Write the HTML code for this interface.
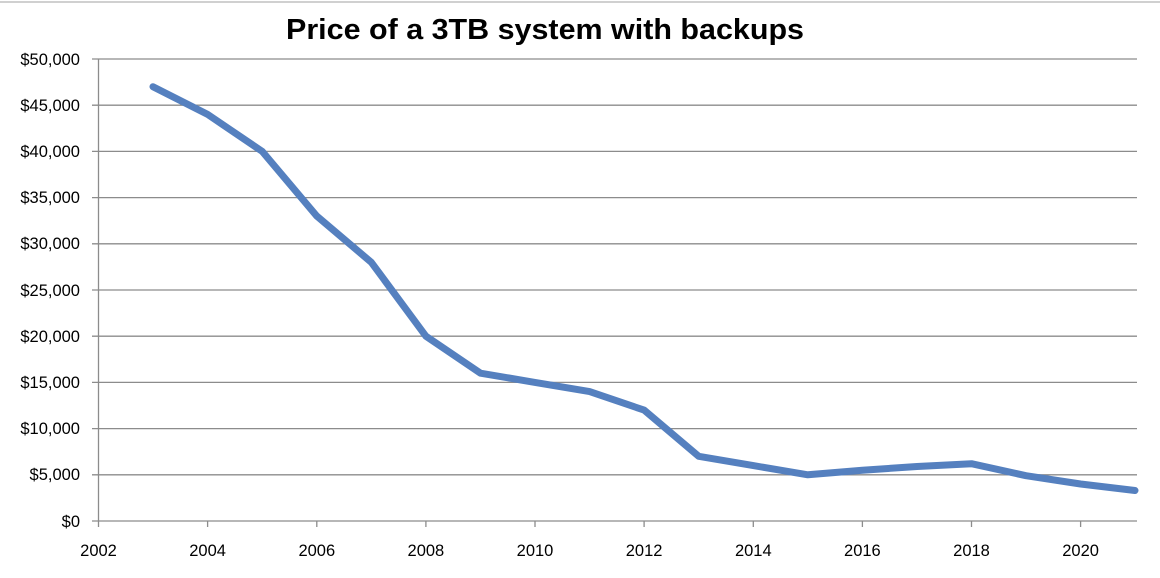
<!DOCTYPE html><html><head><style>body{margin:0;background:#fff}svg{display:block}</style></head><body>
<svg width="1160" height="578" xmlns="http://www.w3.org/2000/svg" font-family="'Liberation Sans',sans-serif">
<line x1="0" y1="2" x2="1160" y2="2" stroke="#d0d0d0" stroke-width="2"/>
<text x="545" y="39" text-anchor="middle" font-size="29" font-weight="bold" fill="#000" textLength="518" lengthAdjust="spacingAndGlyphs">Price of a 3TB system with backups</text>
<g stroke="#8c8c8c" stroke-width="1.3">
<line x1="92" y1="59" x2="1137" y2="59"/><line x1="92" y1="105.2" x2="1137" y2="105.2"/><line x1="92" y1="151.4" x2="1137" y2="151.4"/><line x1="92" y1="197.6" x2="1137" y2="197.6"/><line x1="92" y1="243.8" x2="1137" y2="243.8"/><line x1="92" y1="290" x2="1137" y2="290"/><line x1="92" y1="336.2" x2="1137" y2="336.2"/><line x1="92" y1="382.4" x2="1137" y2="382.4"/><line x1="92" y1="428.6" x2="1137" y2="428.6"/><line x1="92" y1="474.8" x2="1137" y2="474.8"/><line x1="92" y1="521" x2="1137" y2="521"/>
<line x1="98.5" y1="59" x2="98.5" y2="527"/>
<line x1="207.6" y1="521" x2="207.6" y2="527"/><line x1="316.8" y1="521" x2="316.8" y2="527"/><line x1="425.9" y1="521" x2="425.9" y2="527"/><line x1="535" y1="521" x2="535" y2="527"/><line x1="644.1" y1="521" x2="644.1" y2="527"/><line x1="753.3" y1="521" x2="753.3" y2="527"/><line x1="862.4" y1="521" x2="862.4" y2="527"/><line x1="971.5" y1="521" x2="971.5" y2="527"/><line x1="1080.6" y1="521" x2="1080.6" y2="527"/>
</g>
<g font-size="16.5" fill="#000" text-anchor="end">
<text x="80" y="65">$50,000</text><text x="80" y="111">$45,000</text><text x="80" y="157">$40,000</text><text x="80" y="203">$35,000</text><text x="80" y="249">$30,000</text><text x="80" y="296">$25,000</text><text x="80" y="342">$20,000</text><text x="80" y="388">$15,000</text><text x="80" y="434">$10,000</text><text x="80" y="480">$5,000</text><text x="80" y="527">$0</text>
</g>
<g font-size="16.5" fill="#000" text-anchor="middle">
<text x="98.5" y="556">2002</text><text x="207.6" y="556">2004</text><text x="316.8" y="556">2006</text><text x="425.9" y="556">2008</text><text x="535" y="556">2010</text><text x="644.1" y="556">2012</text><text x="753.3" y="556">2014</text><text x="862.4" y="556">2016</text><text x="971.5" y="556">2018</text><text x="1080.6" y="556">2020</text>
</g>
<polyline fill="none" stroke="#5580bf" stroke-width="7" stroke-linecap="round" stroke-linejoin="round" points="153,86.7 207.6,114.4 262.2,151.4 316.8,216.1 371.3,262.3 425.9,336.2 480.5,373.2 535,382.4 589.6,391.6 644.1,410.1 698.7,456.3 753.3,465.6 807.8,474.8 862.4,470.2 917,466.5 971.5,463.7 1026,475.7 1080.6,484 1135,490.5"/>
</svg>
</body></html>
